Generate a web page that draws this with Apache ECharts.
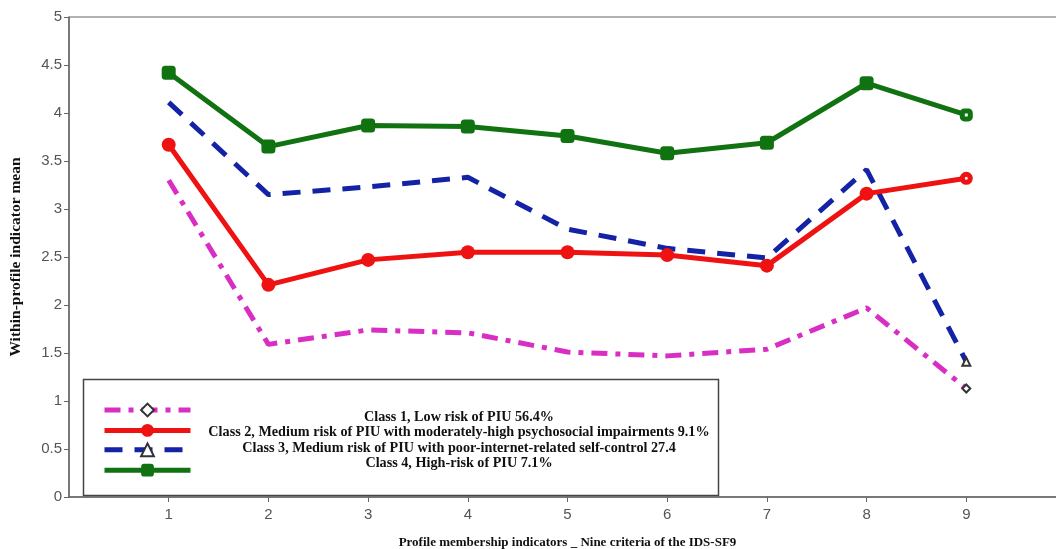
<!DOCTYPE html>
<html>
<head>
<meta charset="utf-8">
<script src="https://cdn.jsdelivr.net/npm/echarts@6/dist/echarts.min.js"></script>
<style>
  html, body { margin: 0; padding: 0; background: #fff; }
  #chart { width: 1056px; height: 549px; }
</style>
</head>
<body>
<div id="chart"></div>
<script>
// criteria of the IDS-SF9
var criteria = ['1', '2', '3', '4', '5', '6', '7', '8', '9'];
var yTicks = [0, 0.5, 1, 1.5, 2, 2.5, 3, 3.5, 4, 4.5, 5];

var classNames = [
  'Class 1, Low risk of PIU 56.4%',
  'Class 2, Medium risk of PIU with moderately-high psychosocial impairments 9.1%',
  'Class 3, Medium risk of PIU with poor-internet-related self-control 27.4',
  'Class 4, High-risk of PIU 7.1%'
];
var class1 = [3.30, 1.59, 1.74, 1.71, 1.51, 1.47, 1.54, 1.97, 1.13];
var class2 = [3.67, 2.21, 2.47, 2.55, 2.55, 2.52, 2.41, 3.16, 3.32];
var class3 = [4.11, 3.15, 3.23, 3.33, 2.79, 2.59, 2.49, 3.41, 1.41];
var class4 = [4.42, 3.65, 3.87, 3.86, 3.76, 3.58, 3.69, 4.31, 3.98];

var colors = ['#d92ec4', '#ee1212', '#1422a6', '#117211'];
var serif = '"Liberation Serif", "DejaVu Serif", serif';
var sans = '"Liberation Sans", Arial, sans-serif';

// only the last point shows its small marker (classes 1 and 3)
function lastOnly(vals) {
  return vals.map(function (v, i) {
    if (i === vals.length - 1) {
      return { value: [i + 1, v], itemStyle: { color: '#333', borderWidth: 1.2 } };
    }
    return { value: [i + 1, v], symbol: 'none' };
  });
}
// every point marked, last one hollow
function allPoints(vals, color) {
  return vals.map(function (v, i) {
    if (i === vals.length - 1) {
      return { value: [i + 1, v], symbolSize: 8, itemStyle: { color: '#fff', borderColor: color, borderWidth: 5 } };
    }
    return { value: [i + 1, v] };
  });
}

var chart = echarts.init(document.getElementById('chart'));
var option = {
  animation: false,
  backgroundColor: '#fff',
  grid: {
    left: 69, right: -10, top: 17, bottom: 52,
    outerBoundsMode: 'none',
    containLabel: false,
    show: true, borderColor: '#666', borderWidth: 1
  },
  xAxis: {
    type: 'value',
    min: 0, max: 10,
    name: 'Profile membership indicators _ Nine criteria of the IDS-SF9',
    nameLocation: 'middle',
    nameGap: 39,
    nameTextStyle: { fontFamily: serif, fontWeight: 'bold', fontSize: 13, color: '#111' },
    splitLine: { show: false },
    axisLine: { lineStyle: { color: '#666', width: 1.5 } },
    axisTick: {
      show: true, length: 5, lineStyle: { color: '#666' },
      customValues: criteria.map(function (c, i) { return i + 1; })
    },
    axisLabel: {
      customValues: criteria.map(function (c, i) { return i + 1; }),
      formatter: function (v) { return criteria[v - 1]; },
      margin: 10, fontFamily: sans, fontSize: 15, color: '#555'
    }
  },
  yAxis: {
    type: 'value',
    min: yTicks[0], max: yTicks[yTicks.length - 1], interval: 0.5,
    name: 'Within-profile indicator mean',
    nameLocation: 'middle',
    nameGap: 45,
    nameTextStyle: { fontFamily: serif, fontWeight: 'bold', fontSize: 15.5, color: '#111' },
    splitLine: { show: false },
    axisLine: { show: true, lineStyle: { color: '#666', width: 1.5 } },
    axisTick: { show: true, length: 5, lineStyle: { color: '#666' } },
    axisLabel: { margin: 7, fontFamily: sans, fontSize: 15, color: '#555' }
  },
  legend: [
    {
      // icons only
      left: 97, top: 397, orient: 'vertical',
      itemWidth: 86, itemHeight: 16, itemGap: 5,
      lineStyle: { width: 5 },
      formatter: function () { return ''; },
      data: [
        { name: classNames[0], itemStyle: { color: '#333', borderWidth: 1 } },
        classNames[1],
        { name: classNames[2], itemStyle: { color: '#333', borderWidth: 1 } },
        classNames[3]
      ],
      selectedMode: false
    },
    {
      // centred labels only
      left: 186, top: 405, orient: 'vertical',
      icon: 'rect', itemWidth: 0, itemHeight: 0, itemGap: 1.5,
      itemStyle: { opacity: 0 },
      formatter: function (n) { return '{c|' + n + '}'; },
      textStyle: {
        rich: {
          c: {
            width: 526, align: 'center',
            fontFamily: serif, fontWeight: 'bold', fontSize: 14.2, color: '#111'
          }
        }
      },
      data: classNames,
      selectedMode: false
    }
  ],
  graphic: [
    {
      type: 'rect', left: 81, top: 377,
      shape: { width: 635, height: 116 },
      style: { fill: 'none', stroke: '#444', lineWidth: 1.5 }
    }
  ],
  series: [
    {
      name: classNames[0], type: 'line',
      data: lastOnly(class1),
      symbol: 'emptyDiamond', symbolSize: 8,
      color: colors[0],
      lineStyle: { color: colors[0], width: 5, type: [16, 8, 5, 8] },
      z: 2
    },
    {
      name: classNames[1], type: 'line',
      data: allPoints(class2, colors[1]),
      symbol: 'circle', symbolSize: 14,
      color: colors[1],
      itemStyle: { color: colors[1] },
      lineStyle: { color: colors[1], width: 5 },
      z: 3
    },
    {
      name: classNames[2], type: 'line',
      data: lastOnly(class3),
      symbol: 'emptyTriangle', symbolSize: 8,
      color: colors[2],
      lineStyle: { color: colors[2], width: 5, type: [18, 12] },
      z: 2
    },
    {
      name: classNames[3], type: 'line',
      data: allPoints(class4, colors[3]),
      symbol: 'roundRect', symbolSize: 14,
      color: colors[3],
      itemStyle: { color: colors[3] },
      lineStyle: { color: colors[3], width: 5 },
      z: 3
    }
  ]
};
chart.setOption(option);
</script>
</body>
</html>
